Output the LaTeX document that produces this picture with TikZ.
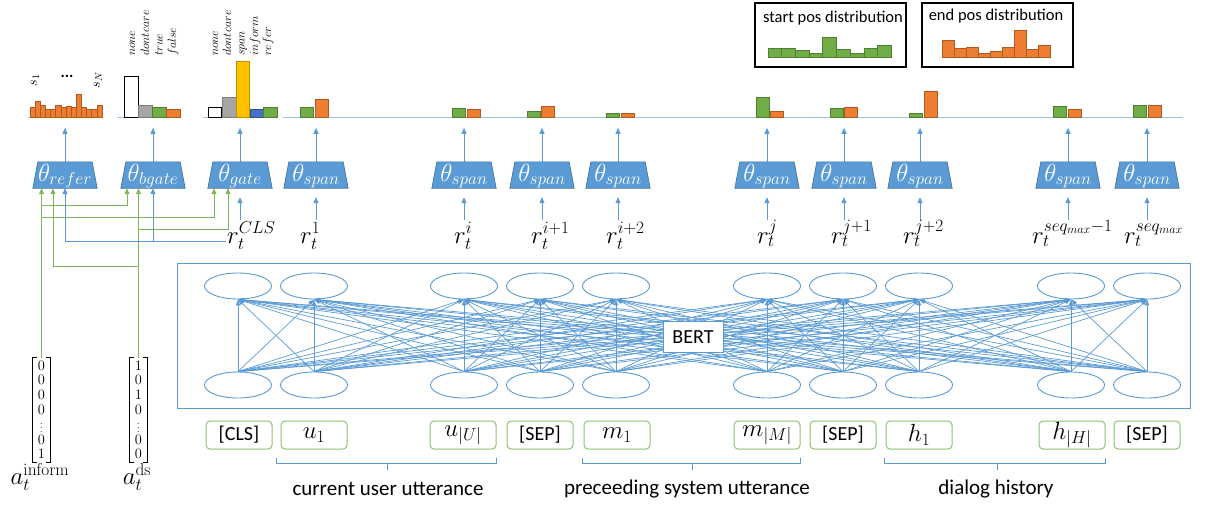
\documentclass[tikz,border=0pt]{standalone}
\usepackage[no-math]{fontspec}
\setmainfont{Carlito}
\usetikzlibrary{arrows.meta,shapes.geometric,calc}
\definecolor{myblue}{HTML}{5B9BD5}
\definecolor{thetafill}{HTML}{5B9BD5}
\definecolor{thetadraw}{HTML}{41719C}
\definecolor{baseblue}{HTML}{9DC3E6}
\definecolor{greenln}{HTML}{7FB85B}
\definecolor{tokgreen}{HTML}{8DC26F}
\definecolor{bgreen}{HTML}{70AD47}
\definecolor{bgreend}{HTML}{507E32}
\definecolor{borange}{HTML}{ED7D31}
\definecolor{boranged}{HTML}{AE5A21}
\definecolor{bgray}{HTML}{A5A5A5}
\definecolor{bgrayd}{HTML}{7B7B7B}
\definecolor{byellow}{HTML}{FFC000}
\definecolor{byellowd}{HTML}{BF9000}
\definecolor{bblue}{HTML}{4472C4}
\definecolor{bblued}{HTML}{2F528F}
\begin{document}
\begin{tikzpicture}[x=1pt,y=-1pt,
  bl/.style={draw=myblue,line width=0.9pt},
  blarr/.style={bl,-{Triangle[length=6pt,width=5pt]}},
  gl/.style={draw=greenln,line width=1pt},
  garr/.style={gl,-{Triangle[length=6pt,width=5pt]}},
  bertarr/.style={draw=myblue,line width=0.7pt,-{Triangle[length=6pt,width=4pt]}},
  thetabox/.style={rectangle,minimum height=26pt,minimum width=64pt,inner sep=0pt},
  ell/.style={ellipse,draw=myblue,line width=0.9pt,minimum width=67pt,minimum height=26pt,inner sep=0pt},
  tok/.style={draw=tokgreen,line width=1pt,rounded corners=4pt,minimum width=66pt,minimum height=28pt,
     inner sep=0pt,font=\fontsize{20}{20}\selectfont},
  mtok/.style={tok,font=\fontsize{24}{24}\selectfont},
  rlab/.style={anchor=base west,inner sep=1pt,font=\fontsize{24}{24}\selectfont},
  gbar/.style={fill=bgreen,draw=bgreend,line width=0.8pt},
  obar/.style={fill=borange,draw=boranged,line width=0.8pt},
  vlab/.style={rotate=90,anchor=base west,inner sep=0pt,font=\fontsize{13}{13}\selectfont},
  base/.style={draw=baseblue,line width=1pt},
  lbl/.style={font=\fontsize{21}{21}\selectfont,inner sep=1pt},
  vec/.style={minimum width=17pt,minimum height=104pt,inner sep=0pt},
  digit/.style={inner sep=0pt,font=\fontsize{14}{14}\selectfont},
  vdot/.style={inner sep=0pt,font=\fontsize{8}{8}\selectfont},
  brk/.style={draw=black,line width=1pt}
]
\useasboundingbox (0,0) rectangle (1206,506);

% ---------- top distribution boxes ----------
\node[draw=black,line width=1.2pt,minimum width=151pt,minimum height=64pt,inner sep=0pt] (startbox) at (830.5,35) {};
\node[font=\fontsize{16.5}{16.5}\selectfont,inner sep=0pt] (starttxt) at (833,18) {start pos distribution};
\foreach \h [count=\k from 0] in {9,9,6.3,4,20,8,4,9,11.3}
  \draw[gbar] ({768+\k*13.7},57) rectangle ++(13.7,-\h);
\node[draw=black,line width=1.2pt,minimum width=151pt,minimum height=64pt,inner sep=0pt] (endbox) at (997.5,35) {};
\node[font=\fontsize{16.5}{16.5}\selectfont,inner sep=0pt] (endtxt) at (996,16) {end pos distribution};
\foreach \h [count=\k from 0] in {16.7,8.3,10,4,5.7,10,26.7,7.3,11.3}
  \draw[obar] ({942+\k*12},57) rectangle ++(12,-\h);

% ---------- baselines ----------
\draw[base] (28,117) -- (103,117);
\draw[base] (117,117) -- (180,117);
\draw[base] (203,117) -- (278,117);
\draw[base] (283,117) -- (1183,117);

% ---------- refer histogram ----------
\foreach \h [count=\k from 0] in {9.3,16,11.7,8,8,11.3,9.3,10.7,10,22.3,9.3,8,8,11.3}
  \draw[obar,line width=0.6pt] ({30+\k*5.14},117) rectangle ++(5.14,-\h);
\node[rotate=90,font=\fontsize{14}{14}\selectfont,inner sep=0pt] (s1) at (35,80) {$s_1$};
\node[font=\fontsize{16}{16}\selectfont\bfseries,inner sep=0pt] (sdots) at (67,76) {...};
\node[rotate=90,font=\fontsize{14}{14}\selectfont,inner sep=0pt] (sN) at (98,80) {$s_N$};

% ---------- bgate histogram ----------
\draw[draw=black,fill=white,line width=1pt] (124,117) rectangle (138,76);
\draw[fill=bgray,draw=bgrayd,line width=0.8pt] (138,117) rectangle (152,105);
\draw[gbar] (152,117) rectangle (166,107);
\draw[obar] (166,117) rectangle (180,109);
\node[vlab] (bg1) at (135,56) {$none$};
\node[vlab] (bg2) at (149,56) {$dontcare$};
\node[vlab] (bg3) at (162.5,56) {$true$};
\node[vlab] (bg4) at (176,56) {$false$};

% ---------- gate histogram ----------
\draw[draw=black,fill=white,line width=1pt] (208,117) rectangle (221,107);
\draw[fill=bgray,draw=bgrayd,line width=0.8pt] (222,117) rectangle (236,97);
\draw[fill=byellow,draw=byellowd,line width=0.8pt] (236,117) rectangle (249,61);
\draw[fill=bblue,draw=bblued,line width=0.8pt] (250,117) rectangle (263,109);
\draw[gbar] (263,117) rectangle (277,107);
\node[vlab] (g1) at (218,56) {$none$};
\node[vlab] (g2) at (231,56) {$dontcare$};
\node[vlab] (g3) at (244.5,56) {$span$};
\node[vlab] (g4) at (258,56) {$inform$};
\node[vlab] (g5) at (271,56) {$refer$};

% ---------- span histograms ----------
\foreach \gx/\gt/\ox/\ot in {300/107/315/99, 452/108/467/109, 527/111/541/106, 606/113/621/113,
   756/97/770/111, 830/108/844/107, 909/113/924/91, 1053/106/1068/109, 1133/105/1148/105}{
  \draw[gbar] (\gx,117) rectangle ({\gx+13},\gt);
  \draw[obar] (\ox,117) rectangle ({\ox+13},\ot);
}

% ---------- theta boxes ----------
\foreach \n/\x/\t in {threfer/65/refer, thbgate/153/bgate, thgate/240/gate,
   th1/316/span, thi/464/span, thii/542/span, thiii/618/span,
   thj/767/span, thjj/844/span, thjjj/920/span, thsa/1068/span, thsb/1147/span}{
  \node[thetabox] (\n) at (\x,175) {};
  \filldraw[fill=thetafill,draw=thetadraw,line width=0.6pt] (\n.south west) -- ([xshift=5pt]\n.north west)
     -- ([xshift=-5pt]\n.north east) -- (\n.south east) -- cycle;
  \node[text=white,font=\fontsize{24}{24}\selectfont,inner sep=0pt] (\n-txt) at ([yshift=-1pt]\n.center) {$\theta_{\t}$};
  \draw[blarr] (\n.north) -- ++(0,-34);
}
\foreach \n in {thgate,th1,thi,thii,thiii,thj,thjj,thjjj,thsa,thsb}
  \draw[blarr] (\n.south) ++(0,32) -- ++(0,-23);

% ---------- r labels ----------
\node[rlab] (rcls) at (226,243) {$r_t^{CLS}$};
\node[rlab] (r1) at (299,243) {$r_t^{1}$};
\node[rlab] (ri) at (453,243) {$r_t^{i}$};
\node[rlab] (rii) at (530,243) {$r_t^{i+1}$};
\node[rlab] (riii) at (605,243) {$r_t^{i+2}$};
\node[rlab] (rj) at (756,243) {$r_t^{j}$};
\node[rlab] (rjj) at (830,243) {$r_t^{j+1}$};
\node[rlab] (rjjj) at (902,243) {$r_t^{j+2}$};
\node[rlab] (rsa) at (1031,243) {$r_t^{seq_{max}-1}$};
\node[rlab] (rsb) at (1123,243) {$r_t^{seq_{max}}$};

% ---------- a vectors ----------
\node[vec] (ainf) at (41.5,410) {};
\node[vec] (ads) at (138.5,410) {};
\foreach \k/\d in {0/0,1/0,2/0,3/0,5/0,6/1}
  \node[digit] (ainf-\k) at (41.5,{365.5+\k*14.8}) {$\d$};
\foreach \k/\d in {0/1,1/0,2/1,3/0,5/0,6/0}
  \node[digit] (ads-\k) at (138.5,{365.5+\k*14.8}) {$\d$};
\node[vdot] (ainf-4) at (41.5,424.7) {$\vdots$};
\node[vdot] (ads-4) at (138.5,424.7) {$\vdots$};
\foreach \v in {ainf,ads}{
  \draw[brk] ([xshift=4pt]\v.north west) -- (\v.north west) -- (\v.south west) -- ([xshift=4pt]\v.south west);
  \draw[brk] ([xshift=-4pt]\v.north east) -- (\v.north east) -- (\v.south east) -- ([xshift=-4pt]\v.south east);
}
\node[font=\fontsize{26}{26}\selectfont,inner sep=0pt] (lainf) at (40,477) {$a_t^{\mathrm{inform}}$};
\node[font=\fontsize{26}{26}\selectfont,inner sep=0pt] (lads) at (137,477) {$a_t^{\mathrm{ds}}$};

% ---------- left wiring ----------
\draw[garr] (ainf.north) -- (ainf.north |- threfer.south);
\draw[garr] (41.5,205) -| ([xshift=-26pt]thbgate.south);
\draw[garr] (41.5,217) -| ([xshift=-26pt]thgate.south);
\draw[garr] (ads.north) -- (ads.north |- thbgate.south);
\draw[garr] (138.5,229) -| ([xshift=-12pt]thgate.south);
\draw[garr] (138.5,266) -| ([xshift=-12pt]threfer.south);
\draw[blarr] (rcls.west |- 0,241) -| (threfer.south);
\draw[blarr] (thbgate.south |- 0,241) -- (thbgate.south);

% ---------- BERT ----------
\node[draw=myblue,line width=1pt,minimum width=1013pt,minimum height=145pt,inner sep=0pt] (bertbox) at (683.5,335.5) {};
\foreach \x [count=\k] in {238,314,464,540,616,767,843,919,1071,1147}{
  \node[ell] (t\k) at (\x,286) {};
  \node[ell] (b\k) at (\x,385) {};
}
\foreach \i in {1,...,10}
  \foreach \j in {1,...,10}
    \draw[bertarr] (b\i.north) -- (t\j.south);
\node[draw=myblue,fill=white,line width=0.9pt,minimum width=60pt,minimum height=31pt,inner sep=0pt,
   font=\fontsize{20}{20}\selectfont] (bert) at (693,337) {BERT};

% ---------- tokens ----------
\foreach \n/\x/\t in {tcls/239/{[CLS]}, tsep1/540/{[SEP]}, tsep2/843/{[SEP]}, tsep3/1147/{[SEP]}}
  \node[tok] (\n) at (\x,435) {\t};
\foreach \n/\x/\t in {tu1/314/{$u_1$}, tuu/463/{$u_{|U|}$},
   tm1/617/{$m_1$}, tmm/767/{$m_{|M|}$}, th1/919/{$h_1$}, thh/1072/{$h_{|H|}$}}
  \node[mtok] (\n) at (\x,435) {\t};

% ---------- braces ----------
\draw[bl] ([xshift=-4pt,yshift=-8pt]tu1.south west) -- ++(0,6) -| ([yshift=-8pt]tuu.south east);
\draw[bl] (387,463) -- (387,470);
\draw[bl] ([xshift=-1pt,yshift=-8pt]tm1.south west) -- ++(0,6) -| ([yshift=-8pt]tmm.south east);
\draw[bl] (692,463) -- (692,470);
\draw[bl] ([xshift=-1pt,yshift=-8pt]th1.south west) -- ++(0,6) -| ([yshift=-8pt]thh.south east);
\draw[bl] (997,463) -- (997,470);
\node[lbl] (lcur) at (388,489) {current user utterance};
\node[lbl] (lpre) at (687,489) {preceeding system utterance};
\node[lbl] (ldia) at (996,489) {dialog history};
\end{tikzpicture}
\end{document}
